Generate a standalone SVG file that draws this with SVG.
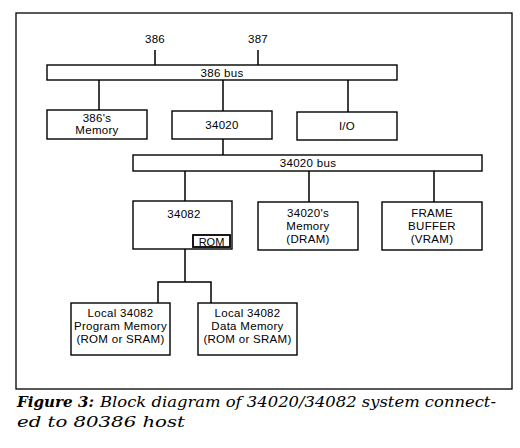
<svg xmlns="http://www.w3.org/2000/svg" width="520" height="448" viewBox="0 0 520 448">
<style>
.box{fill:#fff;stroke:#000;stroke-width:1.4}
.frame{fill:none;stroke:#000;stroke-width:1.3}
.wire{fill:none;stroke:#000;stroke-width:1.5}
.t{font-family:"Liberation Sans",Arial,sans-serif;font-size:11.5px;letter-spacing:0.3px;fill:#000;text-anchor:middle}
.cap{font-family:"DejaVu Serif","Liberation Serif",serif;font-size:15px;font-style:italic;fill:#000}
.capb{font-weight:bold}
</style>
<rect width="520" height="448" fill="#fff"/>
<rect class="frame" x="16" y="13" width="496" height="376"/>
<g id="connectors">
<path class="wire" d="M155 50V65M258 50V65"/>
<path class="wire" d="M99 80V110M223 80V111M348 80V112"/>
<path class="wire" d="M223 139V155"/>
<path class="wire" d="M185 171V201M309 171V202M434 171V202"/>
<path class="wire" d="M185 249V282M158 303V282H211V303"/>
</g>
<g id="cpu386"><text class="t" x="155" y="43">386</text></g>
<g id="fpu387"><text class="t" x="258" y="43">387</text></g>
<g id="bus386">
<rect class="box" x="47" y="65" width="350" height="15"/>
<text class="t" x="222" y="77">386 bus</text>
</g>
<g id="mem386">
<rect class="box" x="47" y="110" width="100" height="29"/>
<text class="t" x="97" y="121.5">386's</text>
<text class="t" x="97" y="134">Memory</text>
</g>
<g id="gsp34020">
<rect class="box" x="172" y="111" width="100" height="28"/>
<text class="t" x="222" y="129">34020</text>
</g>
<g id="io">
<rect class="box" x="297" y="112" width="100" height="28"/>
<text class="t" x="347" y="130">I/O</text>
</g>
<g id="bus34020">
<rect class="box" x="133" y="155" width="349" height="16"/>
<text class="t" x="308" y="167">34020 bus</text>
</g>
<g id="fpu34082">
<rect class="box" x="133" y="201" width="99" height="48"/>
<text class="t" x="184" y="218">34082</text>
<rect class="box" x="193" y="235" width="37" height="12" style="stroke-width:1.8"/>
<text class="t" x="211.5" y="245.5" style="font-size:11px;letter-spacing:0">ROM</text>
</g>
<g id="mem34020">
<rect class="box" x="258" y="202" width="100" height="48"/>
<text class="t" x="308" y="217">34020's</text>
<text class="t" x="308" y="230">Memory</text>
<text class="t" x="308" y="243">(DRAM)</text>
</g>
<g id="framebuffer">
<rect class="box" x="382" y="202" width="100" height="48"/>
<text class="t" x="432" y="217">FRAME</text>
<text class="t" x="432" y="230">BUFFER</text>
<text class="t" x="432" y="243">(VRAM)</text>
</g>
<g id="progmem">
<rect class="box" x="71" y="303" width="99" height="52"/>
<text class="t" x="120.5" y="317">Local 34082</text>
<text class="t" x="120.5" y="330">Program Memory</text>
<text class="t" x="120.5" y="343">(ROM or SRAM)</text>
</g>
<g id="datamem">
<rect class="box" x="198" y="303" width="99" height="52"/>
<text class="t" x="247.5" y="317">Local 34082</text>
<text class="t" x="247.5" y="330">Data Memory</text>
<text class="t" x="247.5" y="343">(ROM or SRAM)</text>
</g>
<g id="caption">
<text class="cap capb" x="17" y="407" textLength="77" lengthAdjust="spacingAndGlyphs">Figure 3:</text>
<text class="cap" x="100" y="407" textLength="396" lengthAdjust="spacingAndGlyphs">Block diagram of 34020/34082 system connect-</text>
<text class="cap" x="17" y="427" textLength="168" lengthAdjust="spacingAndGlyphs">ed to 80386 host</text>
</g>
</svg>
